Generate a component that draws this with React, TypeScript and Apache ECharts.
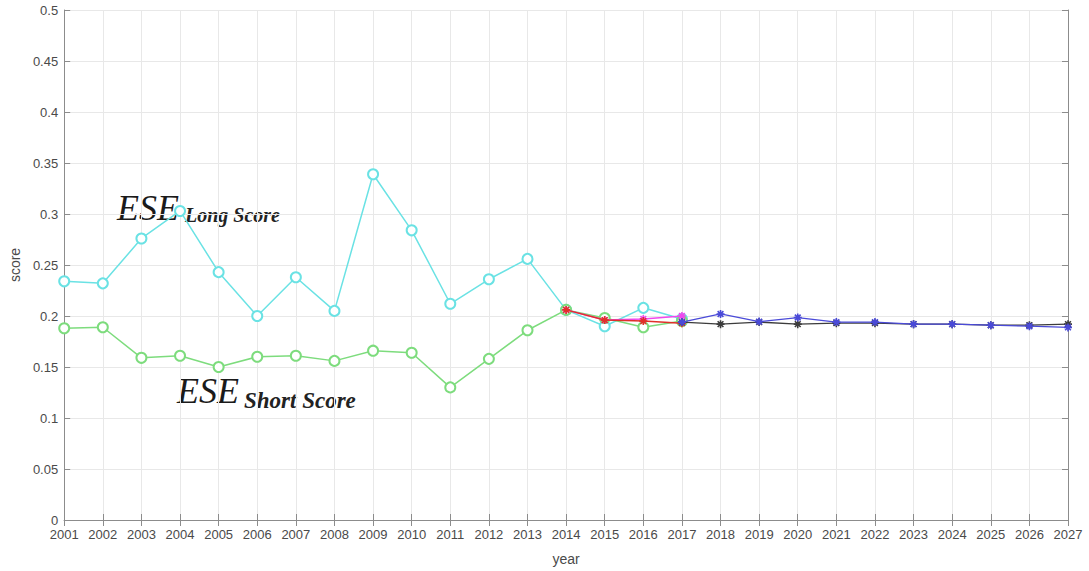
import React, { useEffect, useRef } from "react";
import * as echarts from "echarts";

const years = [
  "2001", "2002", "2003", "2004", "2005", "2006", "2007", "2008", "2009",
  "2010", "2011", "2012", "2013", "2014", "2015", "2016", "2017", "2018",
  "2019", "2020", "2021", "2022", "2023", "2024", "2025", "2026", "2027",
];

// ESE long score, 2001–2017
const longScore = [
  0.234, 0.232, 0.276, 0.303, 0.243, 0.2, 0.238, 0.205, 0.339,
  0.284, 0.212, 0.236, 0.256, 0.206, 0.19, 0.208, 0.197,
];
// ESE short score, 2001–2017
const shortScore = [
  0.188, 0.189, 0.159, 0.161, 0.15, 0.16, 0.161, 0.156, 0.166,
  0.164, 0.13, 0.158, 0.186, 0.206, 0.198, 0.189, 0.195,
];
// red series, 2014–2017
const redScore = [0.206, 0.196, 0.195, 0.193];
// magenta series, 2014–2017
const magentaScore = [0.206, 0.196, 0.197, 0.2];
// black series, 2017–2027
const blackScore = [0.194, 0.192, 0.194, 0.192, 0.193, 0.193, 0.192, 0.192, 0.191, 0.191, 0.192];
// blue series, 2017–2027
const blueScore = [0.194, 0.202, 0.1945, 0.1985, 0.194, 0.194, 0.192, 0.192, 0.191, 0.19, 0.1888];

const yTicks = ["0", "0.05", "0.1", "0.15", "0.2", "0.25", "0.3", "0.35", "0.4", "0.45", "0.5"];

function place(startYear: string, values: number[]) {
  const start = years.indexOf(startYear);
  return years.map((_, i) => (i >= start && i < start + values.length ? values[i - start] : null));
}

const star = "path://M0,-5L0,5M-5,0L5,0M-3.6,-3.6L3.6,3.6M-3.6,3.6L3.6,-3.6";

export default function App() {
  const ref = useRef<HTMLDivElement>(null);
  useEffect(() => {
    if (!ref.current) return;
    const chart = echarts.init(ref.current, undefined, { renderer: "svg" });
    const tickFont = { fontFamily: "Liberation Sans", fontSize: 13, color: "#4a4a4a" };
    const axisLine = { show: true, lineStyle: { color: "#8c8c8c", width: 1 } };
    const lineSeries = (name: string, data: any[], color: string, symbol: string, size: number, z: number, width = 1.5) => ({
      name,
      type: "line",
      data,
      z,
      symbol,
      symbolSize: size,
      showSymbol: true,
      connectNulls: false,
      lineStyle: { color, width },
      itemStyle: { color, borderColor: color, borderWidth: symbol === star ? 1.6 : 1.2 },
    });
    chart.setOption({
      animation: false,
      backgroundColor: "#ffffff",
      grid: { left: 58, right: 21, top: 10, bottom: 48, containLabel: false },
      xAxis: [
        {
          type: "category",
          data: years,
          boundaryGap: false,
          name: "year",
          nameLocation: "middle",
          nameGap: 32,
          nameTextStyle: { fontFamily: "Liberation Sans", fontSize: 14, color: "#4a4a4a" },
          axisLine,
          axisTick: { show: true, inside: true, length: 6, lineStyle: { color: "#8c8c8c" } },
          axisLabel: { ...tickFont, margin: 8, interval: 0 },
          splitLine: { show: true, lineStyle: { color: "#e8e8e8", width: 1 } },
        },
        {
          type: "category",
          data: years,
          boundaryGap: false,
          position: "top",
          axisLine,
          axisTick: { show: true, inside: true, length: 6, lineStyle: { color: "#8c8c8c" } },
          axisLabel: { show: false },
          splitLine: { show: false },
        },
      ],
      yAxis: [
        {
          type: "value",
          min: 0,
          max: 0.5,
          interval: 0.05,
          name: "score",
          nameLocation: "middle",
          nameGap: 38,
          nameTextStyle: { fontFamily: "Liberation Sans", fontSize: 14, color: "#4a4a4a" },
          axisLine,
          axisTick: { show: true, inside: true, length: 6, lineStyle: { color: "#8c8c8c" } },
          axisLabel: {
            ...tickFont,
            margin: 6,
            formatter: (v: number) => yTicks[Math.round(v / 0.05)] ?? String(v),
          },
          splitLine: { show: true, lineStyle: { color: "#e8e8e8", width: 1 } },
        },
        {
          type: "value",
          min: 0,
          max: 0.5,
          interval: 0.05,
          position: "right",
          axisLine,
          axisTick: { show: true, inside: true, length: 6, lineStyle: { color: "#8c8c8c" } },
          axisLabel: { show: false },
          splitLine: { show: false },
        },
      ],
      series: [
        lineSeries("long", place("2001", longScore), "#6ae2e4", "emptyCircle", 10, 2),
        lineSeries("short", place("2001", shortScore), "#7ddc7d", "emptyCircle", 10, 3),
        lineSeries("magenta", place("2014", magentaScore), "#f048ee", star, 8, 4),
        lineSeries("red", place("2014", redScore), "#e0302a", star, 8, 5),
        lineSeries("black", place("2017", blackScore), "#3c3c3c", star, 8, 6, 1.3),
        lineSeries("blue", place("2017", blueScore), "#4a4ad8", star, 8, 7, 1.3),
      ],
      graphic: [
        {
          type: "text",
          x: 117,
          y: 208,
          style: { text: "ESE", font: "italic 36px 'Liberation Serif'", fill: "#1a1a1a", verticalAlign: "middle" },
        },
        {
          type: "text",
          x: 185,
          y: 215,
          style: { text: "Long Score", font: "italic bold 20px 'Liberation Serif'", fill: "#222", verticalAlign: "middle" },
        },
        {
          type: "text",
          x: 177,
          y: 391,
          style: { text: "ESE", font: "italic 36px 'Liberation Serif'", fill: "#1a1a1a", verticalAlign: "middle" },
        },
        {
          type: "text",
          x: 244,
          y: 400,
          style: { text: "Short Score", font: "italic bold 23px 'Liberation Serif'", fill: "#222", verticalAlign: "middle" },
        },
      ],
    });
    return () => chart.dispose();
  }, []);
  return (
    <div
      ref={ref}
      style={{ position: "fixed", left: 0, top: 0, width: 1089, height: 571, background: "#fff" }}
    />
  );
}
